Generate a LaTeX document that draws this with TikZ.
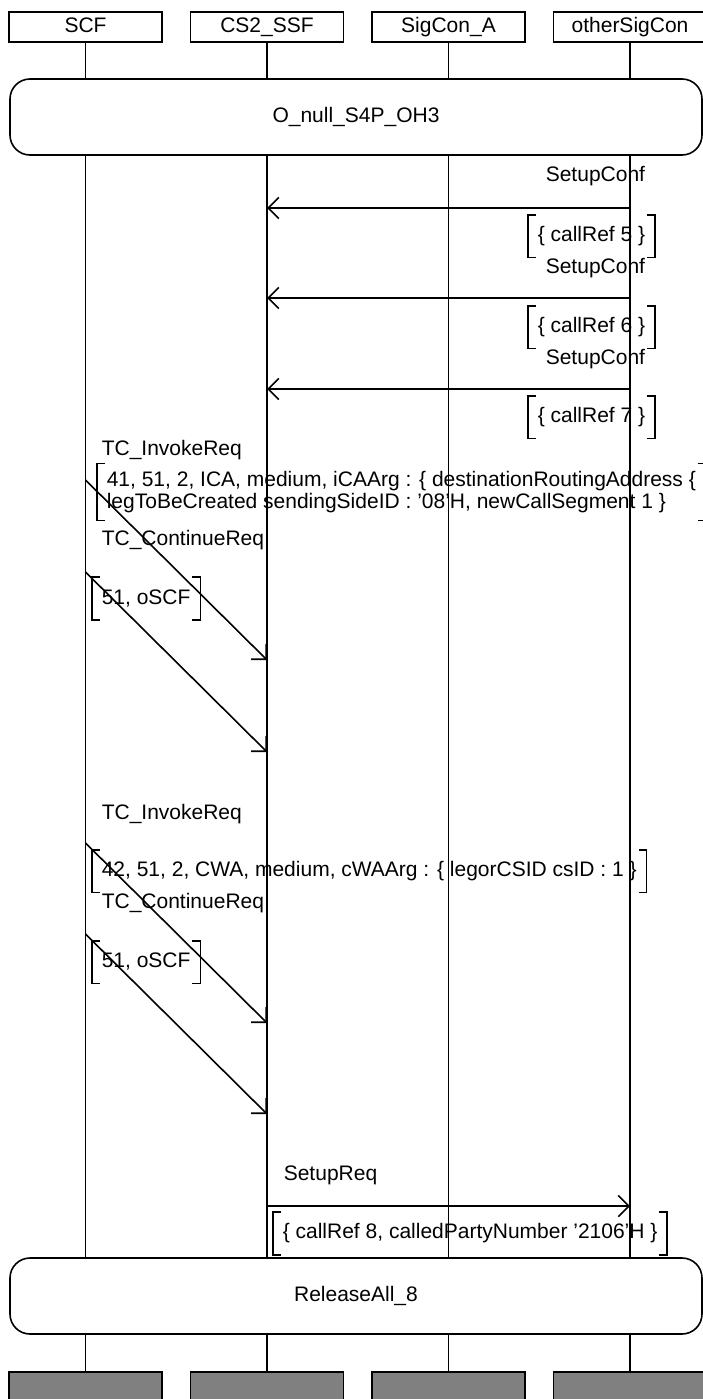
\documentclass[tikz,border=0pt]{standalone}
\usepackage{fontspec}
\setmainfont{Liberation Sans}
\usetikzlibrary{arrows.meta, positioning}

\begin{document}
\begin{tikzpicture}[
      x=1pt, y=-1pt,
      font=\fontsize{21}{22}\selectfont,
      line width=1.6pt,
      inst/.style={draw, minimum width=153pt, minimum height=30pt, inner sep=0pt,
      text height=15pt, text depth=4pt},
      ende/.style={inst, fill=black!50},
      cond/.style={draw, rounded corners=20pt, minimum width=692pt,
      minimum height=76pt},
      lbl/.style={anchor=base west, inner sep=0pt},
      param/.style={anchor=west, align=left, inner xsep=9pt, inner ysep=7pt,
      minimum height=41pt},
      msg/.style={-{Straight Barb[angle=90:15pt]}}
    ]
    \useasboundingbox (0,0) rectangle (703,1399);

    % instances
    \node[inst] (scf) at (85.5,27) {SCF};
    \node[inst, right=26.9pt of scf] (ssf) {CS2\_SSF};
    \node[inst, right=26.9pt of ssf] (sca) {SigCon\_A};
    \node[inst, right=26.9pt of sca] (osc) {otherSigCon};

    \node[cond] (oh3) at (356,117) {O\_null\_S4P\_OH3};
    \node[cond] (rel) at (356,1296) {ReleaseAll\_8};

    \node[ende] (scfx) at (85.5,1387) {};
    \node[ende, right=26.9pt of scfx] (ssfx) {};
    \node[ende, right=26.9pt of ssfx] (scax) {};
    \node[ende, right=26.9pt of scax] (oscx) {};

    % lifelines
    \draw (scf) -- (scf |- oh3.north) (scf |- oh3.south) -- (scf |- rel.north)
      (scfx |- rel.south) -- (scfx);
    \draw (ssf) -- (ssf |- oh3.north) (ssf |- oh3.south) -- (ssf |- rel.north)
      (ssfx |- rel.south) -- (ssfx);
    \draw (sca) -- (sca |- oh3.north) (sca |- oh3.south) -- (sca |- rel.north)
      (scax |- rel.south) -- (scax);
    \draw (osc) -- (osc |- oh3.north) (osc |- oh3.south) -- (osc |- rel.north)
      (oscx |- rel.south) -- (oscx);

    % SetupConf x3
    \node[lbl] (conf1) at (545,182) {SetupConf};
    \node[param] (ref5) at (528,236) {\{ callRef 5 \}};
    \node[lbl] (conf2) at (545,273) {SetupConf};
    \node[param] (ref6) at (528,327) {\{ callRef 6 \}};
    \node[lbl] (conf3) at (545,364) {SetupConf};
    \node[param] (ref7) at (528,417) {\{ callRef 7 \}};
    \draw[msg] (osc |- 0,208) -- (ssf |- 0,208);
    \draw[msg] (osc |- 0,298) -- (ssf |- 0,298);
    \draw[msg] (osc |- 0,389) -- (ssf |- 0,389);

    % first TC exchange
    \node[lbl] (inv1) at (101,455) {TC\_InvokeReq};
    \node[param] (ica1) at (97,492)
    {41, 51, 2, ICA, medium, iCAArg : \{ destinationRoutingAddress \{\\
    legToBeCreated sendingSideID : ’08’H, newCallSegment 1 \}};
    \node[lbl] (cont1) at (101,545) {TC\_ContinueReq};
    \node[param] (oscf1) at (92,598.5) {51, oSCF};
    \draw[msg] (scf |- 0,480) -- (ssf |- 0,660);
    \draw[msg] (scf |- 0,572) -- (ssf |- 0,752);

    % second TC exchange
    \node[lbl] (inv2) at (101,819) {TC\_InvokeReq};
    \node[param] (cwa1) at (92,871)
    {42, 51, 2, CWA, medium, cWAArg : \{ legorCSID csID : 1 \}};
    \node[lbl] (cont2) at (101,908) {TC\_ContinueReq};
    \node[param] (oscf2) at (92,962) {51, oSCF};
    \draw[msg] (scf |- 0,843) -- (ssf |- 0,1023);
    \draw[msg] (scf |- 0,934) -- (ssf |- 0,1114);

    % SetupReq
    \node[lbl] (req) at (283,1180) {SetupReq};
    \node[param] (ref8) at (273,1233.5)
    {\{ callRef 8, calledPartyNumber ’2106’H \}};
    \draw[msg] (ssf |- 0,1206) -- (osc |- 0,1206);

    % brackets round the parameters
    \foreach \p in {ref5, ref6, ref7, ica1, oscf1, cwa1, oscf2, ref8}
      \draw ([xshift=8pt]\p.north west) -| (\p.south west) -- ++(8pt,0)
        ([xshift=-8pt]\p.north east) -| (\p.south east) -- ++(-8pt,0);
  \end{tikzpicture}
\end{document}
